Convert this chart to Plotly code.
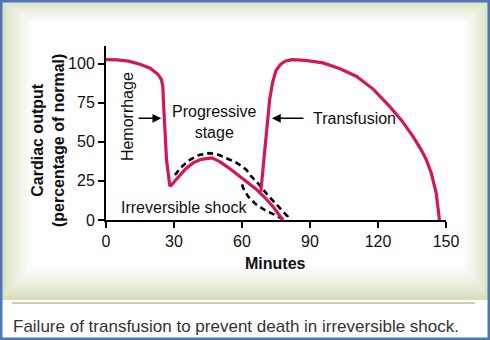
import plotly.graph_objects as go

# ---- data (minutes, % of normal cardiac output) ----
hem_min = [0, 5, 10, 15, 19.5, 23, 24.5, 25.1, 25.3, 26.0, 26.7, 28.2, 29, 31, 32.6, 35, 38.4, 42, 46.7, 50, 54, 58, 62, 66, 70, 74, 78]
hem_val = [102.5, 102.3, 101.5, 99.5, 97, 93, 89.5, 85, 77, 58, 38.5, 21.5, 22.4, 26, 28.8, 32.5, 36.5, 38.8, 39.7, 37.5, 33.5, 29, 25, 20, 14.5, 8, 0]

tr_min = [68.3, 69.3, 70.5, 71.3, 72.2, 73.5, 75, 77, 79, 82, 88, 95.7, 103, 110.4, 118, 125.1, 130.5, 135.4, 139, 141.3, 143.5, 145.7, 147.1]
tr_val = [18, 34, 50, 65, 77, 88, 95.5, 99.5, 101.5, 102.5, 102, 100.4, 96.8, 91.9, 83.5, 72.6, 63.5, 53.4, 45, 38.5, 30, 17, 0]

band_min = [30.4, 33, 37, 41, 45.8, 50, 53, 56.5, 59.8, 62, 64, 67, 71, 75, 78.9, 80, 78.5, 77.4, 74, 70, 66, 62.7, 60.5, 59.6]
band_val = [28.8, 33.5, 38.5, 41.5, 42.7, 41.5, 39.5, 37.5, 34.5, 32, 28, 23.5, 16.5, 10, 4.3, 2.5, 0.8, 1, 3.6, 6.4, 10.2, 15, 20.5, 25]

x_ticks = [0, 30, 60, 90, 120, 150]
y_ticks = [0, 25, 50, 75, 100]

RED = "#d3175a"
FONT = "Liberation Sans, Arial, sans-serif"

W, H = 490, 340
L, R, T, B = 106, 44, 46, 120
PW, PH = W - L - R, H - T - B


def px(x):
    return (x - L) / PW


def py(y):
    return (H - B - y) / PH


fig = go.Figure()
fig.add_trace(go.Scatter(x=band_min, y=band_val, mode="lines",
                         line=dict(color="black", width=2.6, dash="6px,4px"),
                         hoverinfo="skip", showlegend=False))
fig.add_trace(go.Scatter(x=hem_min, y=hem_val, mode="lines",
                         line=dict(color=RED, width=3.2), showlegend=False))
fig.add_trace(go.Scatter(x=tr_min, y=tr_val, mode="lines",
                         line=dict(color=RED, width=3.2), showlegend=False))

shapes = []
# panel gradient (cream edges to white centre)
steps = 11
c0 = (214, 223, 188)
for i in range(steps):
    t = i / (steps - 1)
    col = tuple(round(c0[k] + (255 - c0[k]) * (t ** 0.8)) for k in range(3))
    x0 = 0 + i * 3.2
    x1 = W - i * 2.6
    y0 = 0 + i * 2.2
    y1 = 300 - i * 3.4
    shapes.append(dict(type="rect", xref="paper", yref="paper",
                       x0=px(x0), x1=px(x1), y0=py(y1), y1=py(y0),
                       fillcolor="rgb(%d,%d,%d)" % col, line=dict(width=0), layer="below"))
# separator line
shapes.append(dict(type="line", xref="paper", yref="paper",
                   x0=px(12), x1=px(475), y0=py(303), y1=py(303),
                   line=dict(color="#d8caa6", width=2), layer="below"))
# blue frame
shapes.append(dict(type="rect", xref="paper", yref="paper",
                   x0=px(0), x1=px(W), y0=py(H), y1=py(0),
                   line=dict(color="#4a78b8", width=5), fillcolor="rgba(0,0,0,0)", layer="above"))

ann = []
tf = dict(family=FONT, size=16, color="#111")
ann.append(dict(x=9.3, y=65.8, xref="x", yref="y", text="Hemorrhage", textangle=-90,
                xanchor="center", yanchor="middle", showarrow=False, font=tf))
ann.append(dict(x=24.4, y=65, xref="x", yref="y", ax=13.7, ay=65, axref="x", ayref="y",
                text="", showarrow=True, arrowhead=2, arrowsize=1.1, arrowwidth=1.6, arrowcolor="black"))
ann.append(dict(x=48, y=62.6, xref="x", yref="y", text="Progressive<br>stage",
                xanchor="center", yanchor="middle", showarrow=False, font=tf))
ann.append(dict(x=73.2, y=65, xref="x", yref="y", ax=87.8, ay=65, axref="x", ayref="y",
                text="", showarrow=True, arrowhead=2, arrowsize=1.1, arrowwidth=1.6, arrowcolor="black"))
ann.append(dict(x=90.3, y=65, xref="x", yref="y", text="Transfusion", xanchor="left",
                yanchor="middle", showarrow=False, font=tf))
ann.append(dict(x=34.4, y=8.3, xref="x", yref="y", text="Irreversible shock",
                xanchor="center", yanchor="middle", showarrow=False, font=tf))
ann.append(dict(x=px(48), y=py(141), xref="paper", yref="paper",
                text="<b>Cardiac output</b><br><b>(percentage of normal)</b>", textangle=-90,
                xanchor="center", yanchor="middle",
                showarrow=False, font=dict(family=FONT, size=16, color="#111")))
ann.append(dict(x=px(275), y=py(263), xref="paper", yref="paper", text="<b>Minutes</b>",
                xanchor="center", yanchor="middle",
                showarrow=False, font=dict(family=FONT, size=16, color="#111")))
ann.append(dict(x=px(11), y=py(326), xref="paper", yref="paper", xanchor="left", yanchor="middle",
                text="Failure of transfusion to prevent death in irreversible shock.",
                showarrow=False, font=dict(family=FONT, size=17, color="#333")))

fig.update_layout(
    width=W, height=H,
    margin=dict(l=L, r=R, t=T, b=B, pad=0),
    paper_bgcolor="white", plot_bgcolor="rgba(0,0,0,0)",
    shapes=shapes, annotations=ann, showlegend=False,
    xaxis=dict(range=[0, 150], tickvals=x_ticks, ticks="outside", ticklen=6, tickwidth=2,
               showline=True, linewidth=2, linecolor="black", tickcolor="black",
               showgrid=False, zeroline=False,
               tickfont=dict(family=FONT, size=16, color="#111")),
    yaxis=dict(range=[0, 111.2], tickvals=y_ticks, ticks="outside", ticklen=6, tickwidth=2,
               showline=True, linewidth=2, linecolor="black", tickcolor="black",
               showgrid=False, zeroline=False,
               tickfont=dict(family=FONT, size=16, color="#111")),
)

fig.write_html("out.html")
